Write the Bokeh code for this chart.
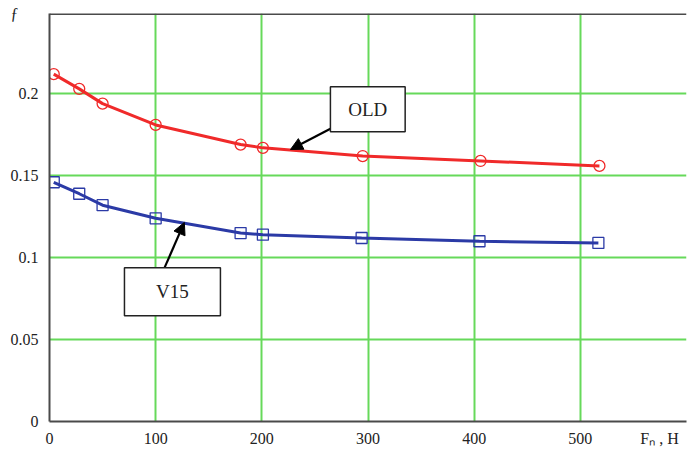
from bokeh.plotting import figure
from bokeh.models import (Range1d, FixedTicker, Span, BoxAnnotation, Label, Arrow, NormalHead)
from bokeh.embed import file_html
from bokeh.resources import INLINE

# data
old_x = [4, 28, 50, 100, 180, 201, 295, 406, 518]
old_f = [0.212, 0.203, 0.194, 0.181, 0.169, 0.167, 0.162, 0.159, 0.156]
v15_x = [4, 28, 50, 100, 180, 201, 294, 405, 517]
v15_f = [0.146, 0.139, 0.132, 0.124, 0.115, 0.114, 0.112, 0.110, 0.109]
x_ticks = [0, 100, 200, 300, 400, 500, 600]
x_labels = ["0", "100", "200", "300", "400", "500", ""]
y_ticks = [0, 0.05, 0.1, 0.15, 0.2]
y_labels = ["0", "0.05", "0.1", "0.15", "0.2"]
x_title = "F\u2099 , H"
y_title = "\u0192"

RED = "#f02a2a"
BLUE = "#2b3aa6"
GRID = "#66d95a"
FRAME = "#4a4a4a"
SERIF = "Liberation Serif"

Y_TOP = 0.249
X_TITLE_POS = 574.6

p = figure(width=687, height=464, output_backend="svg", toolbar_location=None,
           x_range=Range1d(0, 600), y_range=Range1d(0, Y_TOP),
           min_border_left=49, min_border_right=1, min_border_top=13, min_border_bottom=43)
p.outline_line_color = None
p.background_fill_color = "white"

x_over = {t: l for t, l in zip(x_ticks, x_labels)}
x_over[X_TITLE_POS] = x_title
y_over = {t: l for t, l in zip(y_ticks, y_labels)}
y_over[Y_TOP] = y_title + "\u00a0" * 5

p.xaxis.ticker = FixedTicker(ticks=x_ticks + [X_TITLE_POS])
p.yaxis.ticker = FixedTicker(ticks=y_ticks + [Y_TOP])
p.xaxis.major_label_overrides = x_over
p.yaxis.major_label_overrides = y_over
for ax in (p.xaxis, p.yaxis):
    ax.major_tick_line_color = None
    ax.minor_tick_line_color = None
    ax.major_tick_out = 0
    ax.major_tick_in = 0
    ax.axis_line_color = FRAME
    ax.axis_line_width = 2
    ax.major_label_text_font = SERIF
    ax.major_label_text_font_size = "16px"
    ax.major_label_text_color = "#222222"
p.xaxis.major_label_standoff = 8
p.yaxis.major_label_standoff = 11

p.xgrid.ticker = FixedTicker(ticks=x_ticks)
p.ygrid.ticker = FixedTicker(ticks=y_ticks)
p.xgrid.grid_line_color = GRID
p.ygrid.grid_line_color = GRID
p.xgrid.grid_line_width = 2
p.ygrid.grid_line_width = 2

p.add_layout(Span(location=Y_TOP, dimension="width", line_color=FRAME, line_width=3))

p.line(old_x, old_f, line_color=RED, line_width=3)
p.scatter(old_x, old_f, marker="circle", size=11, fill_color=None, line_color=RED, line_width=1.3)
p.line(v15_x, v15_f, line_color=BLUE, line_width=3)
p.scatter(v15_x, v15_f, marker="square", size=11, fill_color=None, line_color=BLUE, line_width=1.3)

# annotation boxes
p.add_layout(Arrow(end=NormalHead(size=12, fill_color="black", line_color="black"),
                   x_start=264.6, y_start=0.1787, x_end=227, y_end=0.166,
                   line_color="black", line_width=2.2))
p.add_layout(BoxAnnotation(left=264.6, right=335, bottom=0.1768, top=0.2043,
                           fill_color="white", fill_alpha=1, line_color="#222222",
                           line_alpha=1, line_width=1.5))
p.add_layout(Label(x=299.8, y=0.1905, text="OLD", text_font=SERIF, text_font_size="19px",
                   text_align="center", text_baseline="middle", text_color="#222222"))

p.add_layout(Arrow(end=NormalHead(size=12, fill_color="black", line_color="black"),
                   x_start=108.4, y_start=0.0939, x_end=127, y_end=0.1215,
                   line_color="black", line_width=2.2))
p.add_layout(BoxAnnotation(left=70.6, right=161, bottom=0.0646, top=0.0939,
                           fill_color="white", fill_alpha=1, line_color="#222222",
                           line_alpha=1, line_width=1.5))
p.add_layout(Label(x=115.8, y=0.0793, text="V15", text_font=SERIF, text_font_size="19px",
                   text_align="center", text_baseline="middle", text_color="#222222"))

open("out.html", "w").write(file_html(p, INLINE))
